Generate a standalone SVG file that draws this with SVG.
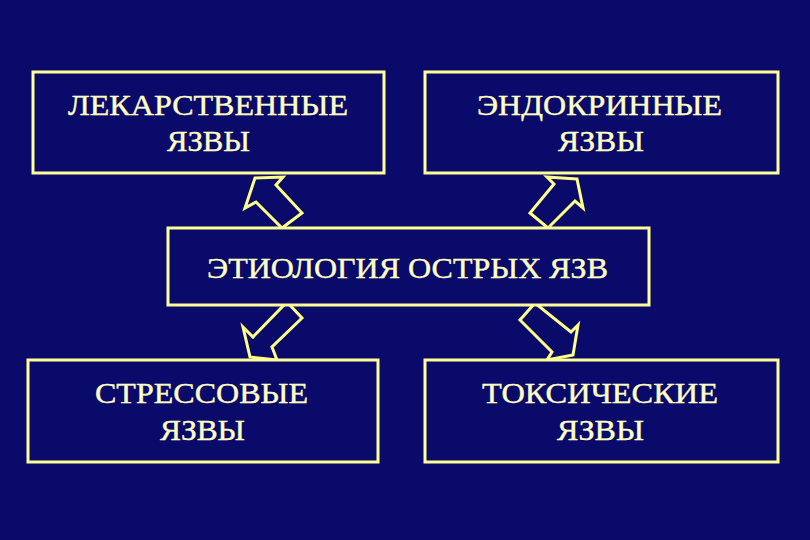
<svg xmlns="http://www.w3.org/2000/svg" width="810" height="540" viewBox="0 0 810 540">
<style>
.box{fill:#0a0a6a;stroke:#ffff99;stroke-width:3}
.t{font-family:"Liberation Serif","Times New Roman",serif;font-weight:normal;fill:#ffffc4;stroke:#ffffc4;stroke-width:0.4;font-size:30px;text-anchor:middle}
.arr{fill:none;stroke:#ffff88;stroke-width:3;stroke-linejoin:miter}
</style>
<rect width="810" height="540" fill="#0a0a6a"/>
<g id="connectors">
<polygon class="arr" points="255,178 283,177 276,185 302,213 282,228 256,202 245,208"/>
<polygon class="arr" points="577,179 547,177 554,184 530,213 548,228 575,201 583,208"/>
<polygon class="arr" points="287,302 302,318 272,347 277,360 250,357 243,327 253,337"/>
<polygon class="arr" points="535,303 520,320 552,352 547,360 573,355 578,325 571,332"/>
</g>
<g id="lekarstvennye">
<rect class="box" x="33" y="72" width="351" height="101"/>
<text class="t" x="208" y="115" textLength="280" lengthAdjust="spacingAndGlyphs">ЛЕКАРСТВЕННЫЕ</text>
<text class="t" x="208.5" y="151" textLength="83" lengthAdjust="spacingAndGlyphs">ЯЗВЫ</text>
</g>
<g id="endokrinnye">
<rect class="box" x="425" y="72" width="353" height="101"/>
<text class="t" x="599.5" y="115" textLength="245" lengthAdjust="spacingAndGlyphs">ЭНДОКРИННЫЕ</text>
<text class="t" x="601" y="151" textLength="86" lengthAdjust="spacingAndGlyphs">ЯЗВЫ</text>
</g>
<g id="etiologiya">
<rect class="box" x="168" y="228" width="481" height="77"/>
<text class="t" x="407.5" y="278" textLength="401" lengthAdjust="spacingAndGlyphs">ЭТИОЛОГИЯ ОСТРЫХ ЯЗВ</text>
</g>
<g id="stressovye">
<rect class="box" x="28" y="360" width="350" height="102"/>
<text class="t" x="201.5" y="403" textLength="213" lengthAdjust="spacingAndGlyphs">СТРЕССОВЫЕ</text>
<text class="t" x="202.5" y="440" textLength="85" lengthAdjust="spacingAndGlyphs">ЯЗВЫ</text>
</g>
<g id="toksicheskie">
<rect class="box" x="425" y="360" width="353" height="102"/>
<text class="t" x="600" y="403" textLength="236" lengthAdjust="spacingAndGlyphs">ТОКСИЧЕСКИЕ</text>
<text class="t" x="600.5" y="440" textLength="87" lengthAdjust="spacingAndGlyphs">ЯЗВЫ</text>
</g>
</svg>
